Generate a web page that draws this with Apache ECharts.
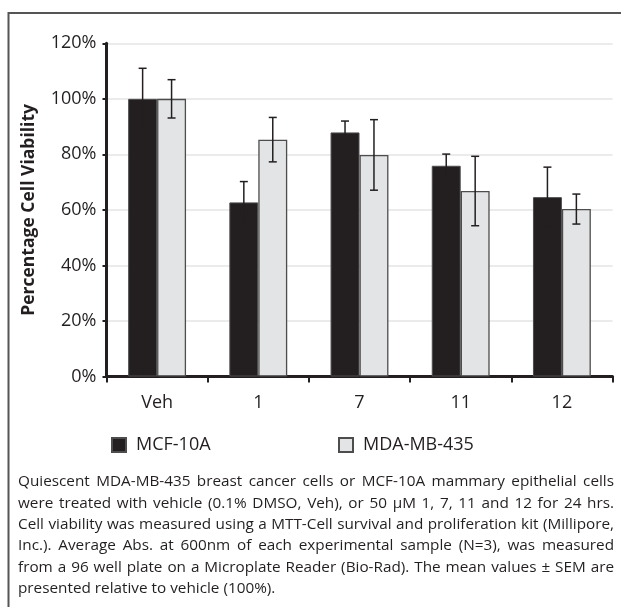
<!DOCTYPE html>
<html>
<head>
<meta charset="utf-8">
<script src="https://cdn.jsdelivr.net/npm/echarts@6/dist/echarts.min.js"></script>
<style>
html,body{margin:0;padding:0;background:#fff;}
#c{width:621px;height:607px;}
</style>
</head>
<body>
<div id="c"></div>
<script>
// ---- data ----
const categories = ['Veh', '1', '7', '11', '12'];
const seriesNames = ['MCF-10A', 'MDA-MB-435'];
const mcfValues = [100, 62.7, 87.9, 75.9, 64.6];
const mcfErrors = [11, 7.5, 4.1, 4.2, 10.8];
const mdaValues = [100, 85.3, 79.8, 66.8, 60.3];
const mdaErrors = [6.9, 8.0, 12.7, 12.5, 5.4];
const yMin = 0, yMax = 120, yStep = 20;
const yAxisTitle = 'Percentage Cell Viability';
const captionLines = [
  'Quiescent MDA-MB-435 breast cancer cells or MCF-10A mammary epithelial cells',
  'were treated with vehicle (0.1% DMSO, Veh), or 50 \u00b5M 1, 7, 11 and 12 for 24 hrs.',
  'Cell viability was measured using a MTT-Cell survival and proliferation kit (Millipore,',
  'Inc.). Average Abs. at 600nm of each experimental sample (N=3), was measured',
  'from a 96 well plate on a Microplate Reader (Bio-Rad). The mean values \u00b1 SEM are',
  'presented relative to vehicle (100%).'
];

// ---- style ----
const FONT = '"Open Sans", sans-serif';
const INK = '#231f20';
const BAR_RATIO = 0.286;

const chart = echarts.init(document.getElementById('c'), null, {renderer: 'canvas', width: 621, height: 607});

function errorSeries(name, values, errors, side) {
  return {
    type: 'custom',
    name: name + ' error',
    z: 5,
    encode: {x: 0, y: [1, 2]},
    data: values.map((v, i) => [i, v - errors[i], v + errors[i]]),
    renderItem: function (params, api) {
      const i = api.value(0);
      const lo = api.coord([i, api.value(1)]);
      const hi = api.coord([i, api.value(2)]);
      const bw = api.size([1, 0])[0] * BAR_RATIO;
      const x = lo[0] + side * bw / 2;
      const cap = 4;
      const style = {stroke: INK, lineWidth: 1.5};
      return {
        type: 'group',
        children: [
          {type: 'line', shape: {x1: x, y1: lo[1], x2: x, y2: hi[1]}, style: style},
          {type: 'line', shape: {x1: x - cap, y1: lo[1], x2: x + cap, y2: lo[1]}, style: style},
          {type: 'line', shape: {x1: x - cap, y1: hi[1], x2: x + cap, y2: hi[1]}, style: style}
        ]
      };
    }
  };
}

// caption, justified
function buildCaption() {
  const size = 15.3;
  const left = 18, right = 614, top0 = 482, lh = 21.3;
  const ctx = document.createElement('canvas').getContext('2d');
  ctx.font = size + 'px "Open Sans"';
  const els = [];
  captionLines.forEach((line, li) => {
    const words = line.split(' ');
    const ws = words.map(w => ctx.measureText(w).width);
    const total = ws.reduce((a, b) => a + b, 0);
    const last = li === captionLines.length - 1;
    const gap = last ? ctx.measureText(' ').width : (right - left - total) / (words.length - 1);
    let x = left;
    words.forEach((w, wi) => {
      els.push({
        type: 'text', x: x, y: top0 + li * lh, silent: true,
        style: {text: w, fontFamily: FONT, fontSize: size, fill: INK, align: 'left', verticalAlign: 'middle'}
      });
      x += ws[wi] + gap;
    });
  });
  return els;
}

const legendBase = {
  top: 436, padding: 0, itemWidth: 14, itemHeight: 14, icon: 'rect',
  textStyle: {fontFamily: FONT, fontSize: 18, color: INK, padding: [0, 0, 0, 5]},
  selectedMode: false
};

const option = {
  backgroundColor: '#fff',
  animation: false,
  grid: {left: 106.5, right: 8.5, top: 43.3, bottom: 230.5, containLabel: false},
  legend: [
    Object.assign({}, legendBase, {left: 111, data: [seriesNames[0]]}),
    Object.assign({}, legendBase, {left: 338, data: [seriesNames[1]]})
  ],
  xAxis: {
    type: 'category',
    data: categories,
    axisLine: {lineStyle: {color: INK, width: 3}},
    axisTick: {show: true, length: 6, lineStyle: {color: INK, width: 2}},
    axisLabel: {fontFamily: FONT, fontSize: 18, color: INK, margin: 17},
    splitLine: {show: false}
  },
  yAxis: {
    type: 'value',
    min: yMin, max: yMax, interval: yStep,
    name: yAxisTitle,
    nameLocation: 'middle',
    nameGap: 68,
    nameTextStyle: {fontFamily: FONT, fontSize: 17.5, fontWeight: 'bold', color: INK},
    axisLine: {show: true, lineStyle: {color: INK, width: 3}},
    axisTick: {show: true, length: 4, lineStyle: {color: INK, width: 2}},
    axisLabel: {fontFamily: FONT, fontSize: 18, color: INK, margin: 10, formatter: '{value}%'},
    splitLine: {show: true, lineStyle: {color: '#e4e4e4', width: 1.5}}
  },
  series: [
    {
      name: seriesNames[0], type: 'bar', data: mcfValues,
      barWidth: (BAR_RATIO * 100) + '%', barGap: '0%',
      itemStyle: {color: INK, borderColor: '#4d4d4d', borderWidth: 1}
    },
    {
      name: seriesNames[1], type: 'bar', data: mdaValues,
      barWidth: (BAR_RATIO * 100) + '%', barGap: '0%',
      itemStyle: {color: '#e3e4e6', borderColor: '#4d4d4d', borderWidth: 1.3}
    },
    errorSeries(seriesNames[0], mcfValues, mcfErrors, -1),
    errorSeries(seriesNames[1], mdaValues, mdaErrors, 1)
  ],
  graphic: [
    {type: 'rect', silent: true, z: 100, shape: {x: 8.5, y: 13, width: 700, height: 700},
     style: {fill: null, stroke: '#555', lineWidth: 2}}
  ].concat(buildCaption())
};

chart.setOption(option);
</script>
</body>
</html>
